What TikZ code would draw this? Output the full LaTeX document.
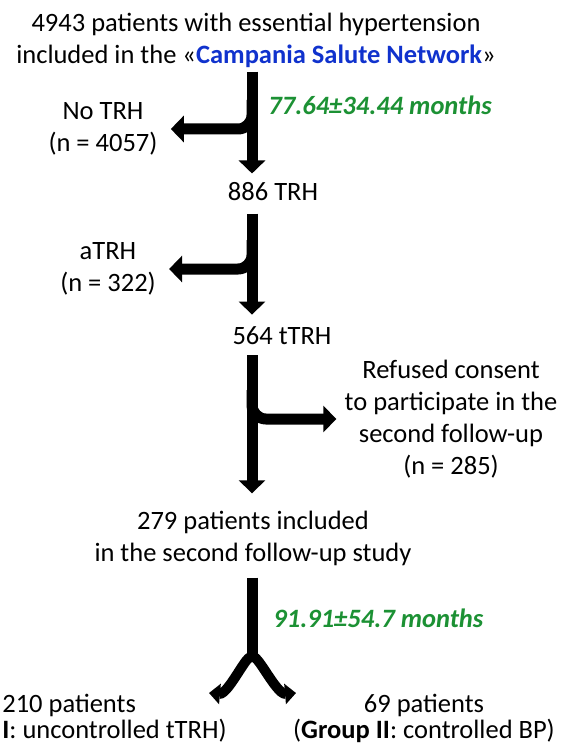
\documentclass[tikz,border=0pt]{standalone}
\usepackage{fontspec}
\setmainfont{Carlito}
\usetikzlibrary{arrows.meta}
\definecolor{netblue}{RGB}{16,50,205}
\definecolor{timegreen}{RGB}{28,145,52}
\tikzset{every picture/.style={line width=0.75pt}}
\tikzset{
  txt/.style={font=\fontsize{26.5}{32}\selectfont, align=center, inner sep=2pt},
  tight/.style={font=\fontsize{26.5}{26}\selectfont},
  months/.style={font=\fontsize{26.5}{32}\selectfont\bfseries\itshape, text=timegreen, inner sep=2pt, anchor=west},
  flow/.style={line width=11pt, -{Triangle[length=13pt,width=26pt]}},
  branch/.style={flow, rounded corners=14pt, shorten >=11pt},
  stem/.style={line width=11pt},
  fork/.style={line width=10pt, -{Triangle[length=11pt,width=20pt]}},
}

\begin{document}
\begin{tikzpicture}[x=1pt,y=1pt,yscale=-1,xscale=1]
\useasboundingbox (0,0) rectangle (571,746);

% axis of the flow
\coordinate (axis) at (252,0);

% Text Nodes
\node[txt] (cohort) at (256,40) {4943 patients with essential hypertension\\included in the «\textcolor{netblue}{\textbf{Campania Salute Network}}»};
\node[months] (fu1) at (266,105) {77.64±34.44 months};
\node[txt] (notrh) at (103,129) {No TRH\\(n = 4057)};
\node[txt] (trh) at (273,192) {886 TRH};
\node[txt] (atrh) at (108,269) {aTRH\\(n = 322)};
\node[txt] (ttrh) at (282,336) {564 tTRH};
\node[txt] (refused) at (451,419) {Refused consent\\to participate in the\\second follow-up\\(n = 285)};
\node[txt] (second) at (253,538) {279 patients included\\in the second follow-up study};
\node[months] (fu2) at (271,618) {91.91±54.7 months};
\node[txt, tight, align=left, anchor=west] (grp1) at (0,718) {210 patients\\\textbf{I}: uncontrolled tTRH)};
\node[txt, tight] (grp2) at (424,718) {69 patients\\(\textbf{Group II}: controlled BP)};

% branch points on the axis
\coordinate (b1) at (252,100);
\coordinate (b2) at (252,240);
\coordinate (b3) at (252,390);
\coordinate (split) at (252,662);
\coordinate (lefttip) at (209,693);
\coordinate (righttip) at (296,693);

% Arrows
\draw[flow, shorten <=2pt, shorten >=7pt] (cohort.south -| axis) -- (trh.north -| axis);
\draw[branch] (b1) |- (notrh);
\draw[flow, shorten <=10pt, shorten >=10pt] (trh.south -| axis) -- (ttrh.north -| axis);
\draw[branch] (b2) |- (atrh);
\draw[flow, shorten <=8pt, shorten >=15pt] (ttrh.south -| axis) -- (second.north -| axis);
\draw[branch, shorten >=6pt] (b3) |- (refused);
\draw[stem, shorten <=10pt] (second.south -| axis) -- (split);
\draw[fork] (split) to[out=-90,in=5] (lefttip);
\draw[fork] (split) to[out=-90,in=175] (righttip);

\end{tikzpicture}
\end{document}
